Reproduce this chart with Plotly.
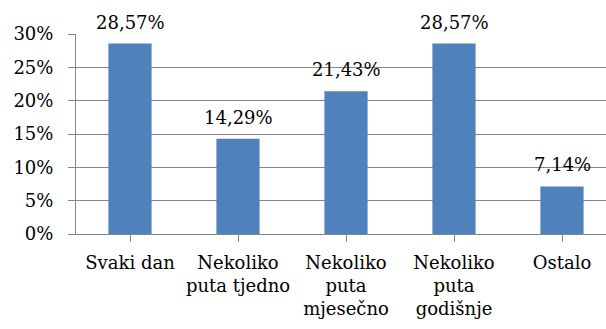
import plotly.graph_objects as go

categories = ["Svaki dan", "Nekoliko<br>puta tjedno", "Nekoliko<br>puta<br>mjesečno", "Nekoliko<br>puta<br>godišnje", "Ostalo"]
values = [28.57, 14.29, 21.43, 28.57, 7.14]
labels = ["28,57%", "14,29%", "21,43%", "28,57%", "7,14%"]
ytickvals = [0, 5, 10, 15, 20, 25, 30]
yticktext = ["0%", "5%", "10%", "15%", "20%", "25%", "30%"]

FONT = "DejaVu Serif"
GRID = "#868686"

xs = list(range(len(categories)))
fig = go.Figure(go.Bar(
    x=xs,
    y=values,
    width=0.4,
    marker=dict(color="#4F81BD", line=dict(width=0)),
))

for x, v, t in zip(xs, values, labels):
    fig.add_annotation(x=x, y=v, text=t, showarrow=False, yanchor="bottom",
                       yshift=9, font=dict(family=FONT, size=18, color="#000000"))

fig.update_layout(
    width=606, height=329,
    margin=dict(l=76, r=0, t=34, b=95),
    plot_bgcolor="white", paper_bgcolor="white",
    showlegend=False,
    font=dict(family=FONT, size=18, color="#000000"),
)
fig.update_xaxes(
    range=[-0.5, 4.4074],
    tickvals=xs,
    ticktext=categories,
    tickson="boundaries",
    ticks="outside", ticklen=7, tickcolor=GRID, tickwidth=1,
    showline=True, linecolor=GRID, linewidth=1,
    showgrid=False, zeroline=False,
    ticklabelstandoff=5,
    tickfont=dict(family=FONT, size=18),
)
fig.update_yaxes(
    range=[0, 30],
    tickvals=ytickvals, ticktext=yticktext,
    ticks="outside", ticklen=7, tickcolor=GRID, tickwidth=1,
    showline=True, linecolor=GRID, linewidth=1,
    showgrid=True, gridcolor=GRID, gridwidth=1,
    zeroline=False,
    ticklabelstandoff=11,
    tickfont=dict(family=FONT, size=18),
)

fig.write_html("out.html")
